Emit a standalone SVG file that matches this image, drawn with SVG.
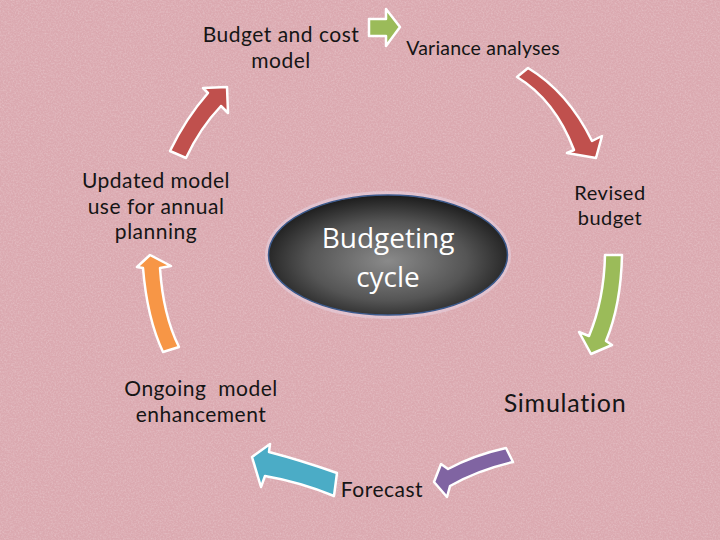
<svg xmlns="http://www.w3.org/2000/svg" width="720" height="540" viewBox="0 0 720 540">
<defs>
<style>
.lbl{font-family:Lato,"Open Sans",sans-serif;fill:#151515;text-anchor:middle;font-size:21px;letter-spacing:0.5px}
.ctr{font-family:"Open Sans","Liberation Sans",sans-serif;fill:#ffffff;text-anchor:middle;font-size:28px}
.arr{stroke:#ffffff;stroke-width:2.5;stroke-linejoin:round}
</style>
<filter id="noise" x="0" y="0" width="100%" height="100%">
<feTurbulence type="fractalNoise" baseFrequency="0.6" numOctaves="3" seed="7"/>
<feColorMatrix type="matrix" values="0 0 0 0 1  0 0 0 0 1  0 0 0 0 1  1.2 0 0 0 -0.45"/>
</filter>
<radialGradient id="core" cx="50%" cy="55%" r="55%">
<stop offset="0" stop-color="#8a8a8a"/>
<stop offset="0.6" stop-color="#555555"/>
<stop offset="1" stop-color="#1c1c1c"/>
</radialGradient>
</defs>
<rect width="720" height="540" fill="#dba9b0"/>
<rect width="720" height="540" filter="url(#noise)" opacity="0.35"/>

<g id="connectors">
<path class="arr" fill="#c0504d" d="M170,151 Q186,118 208,93 L203,88 L227,87 L228,113 L221,106 Q200,128 186,158 Z"/>
<path class="arr" fill="#9bbb59" d="M369,19 L386,19 L386,9 L400,27 L386,46 L386,36 L369,36 Z"/>
<path class="arr" fill="#c0504d" d="M528,68 Q568,92 592,141 L602,136 L596,158 L567,153 L574,150 Q555,100 517,77 Z"/>
<path class="arr" fill="#9bbb59" d="M605,255 L622,255 Q621,305 606,341 L612,345 L591,354 L579,332 L589,336 Q604,300 605,255 Z"/>
<path class="arr" fill="#8064a2" d="M506,448 Q474,455 448,469 L441,464 L434,482 L447,497 L450,486 Q478,470 513,462 Z"/>
<path class="arr" fill="#4bacc6" d="M337,473 Q300,460 269,452 L270,444 L252,457 L261,487 L265,476 Q300,482 334,496 Z"/>
<path class="arr" fill="#f79646" d="M163,352 Q147,318 143,268 L137,267 L150,255 L171,266 L160,268 Q163,315 179,347 Z"/>
</g>

<g id="center">
<ellipse cx="388" cy="255" rx="121" ry="62" fill="none" stroke="#e8d8e8" stroke-width="4" opacity="0.5"/>
<ellipse cx="388" cy="255" rx="119.5" ry="60" fill="url(#core)" stroke="#3c5a8c" stroke-width="1.5"/>
<text class="ctr" x="388" y="248">Budgeting</text>
<text class="ctr" x="388" y="287">cycle</text>
</g>

<g id="budget-model">
<text class="lbl" x="281" y="42">Budget and cost</text>
<text class="lbl" x="281" y="67.5">model</text>
</g>
<g id="variance">
<text class="lbl" style="font-size:19.5px;letter-spacing:0.2px" x="483" y="55">Variance analyses</text>
</g>
<g id="revised">
<text class="lbl" style="font-size:20px" x="610" y="200">Revised</text>
<text class="lbl" style="font-size:20px" x="610" y="224.5">budget</text>
</g>
<g id="simulation">
<text class="lbl" style="font-size:25px;letter-spacing:0.75px" x="565" y="412">Simulation</text>
</g>
<g id="forecast">
<text class="lbl" x="382" y="497">Forecast</text>
</g>
<g id="ongoing">
<text class="lbl" x="201" y="396" xml:space="preserve">Ongoing  model</text>
<text class="lbl" x="201" y="421.5">enhancement</text>
</g>
<g id="updated">
<text class="lbl" x="156" y="188">Updated model</text>
<text class="lbl" x="156" y="213.5">use for annual</text>
<text class="lbl" x="156" y="239">planning</text>
</g>
</svg>
